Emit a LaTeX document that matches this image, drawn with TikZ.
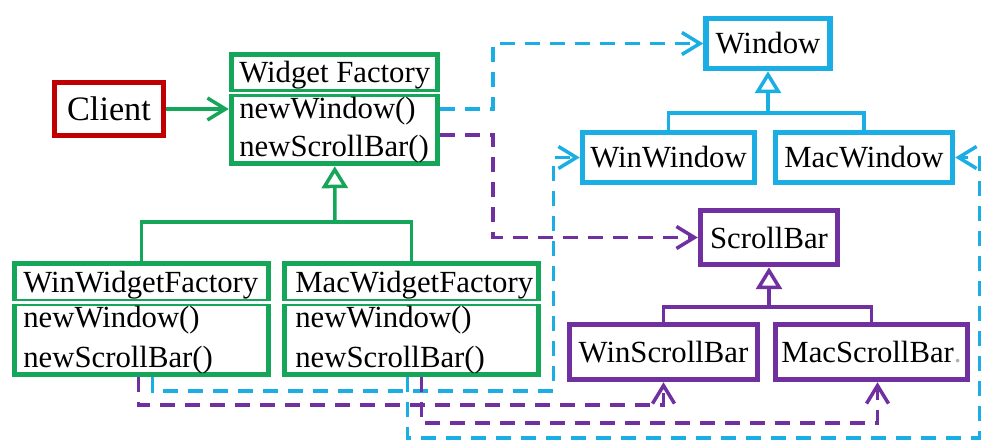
\documentclass[tikz,border=0pt]{standalone}
\usepackage{fontspec}
\setmainfont{Liberation Serif}
\usetikzlibrary{arrows.meta,calc}
\definecolor{clientred}{HTML}{C00000}
\definecolor{factgreen}{HTML}{16A65A}
\definecolor{winblue}{HTML}{1AAEE5}
\definecolor{barpurple}{HTML}{7030A0}
\newcommand{\sepline}[3]{\draw[#1,line width=0.05cm,double=white,double distance=0.05cm] (#2.west |- 0,#3) -- (#2.east |- 0,#3);}

\begin{document}
\begin{tikzpicture}[x=0.02cm,y=-0.02cm,font=\fontsize{17.5}{20}\selectfont,
  cls/.style={draw=#1,line width=0.11cm,fill=white,inner sep=0pt},
  memb/.style={anchor=base west,inner sep=0pt},
  gen/.style={draw=#1,line width=0.07cm},
  isa/.style={-{Triangle[open,length=0.44cm,width=0.52cm]}},
  dep/.style={draw=#1,line width=0.07cm,dash pattern=on 0.3cm off 0.2cm,-{Straight Barb[length=0.36cm,width=0.44cm]}}]
  \useasboundingbox (0,0) rectangle (1000,448);

  % client and factories
  \node[cls=clientred,minimum width=2.18cm,minimum height=1.06cm,font=\fontsize{19.5}{22}\selectfont] (client) at (109,109) {Client};
  \node[cls=factgreen,minimum width=4.12cm,minimum height=2.18cm] (wf) at (334.5,109) {};
  \node[memb] (wfname) at (239,83) {Widget Factory};
  \sepline{factgreen}{wf}{93}
  \node[memb] (wfwin) at (239,119) {newWindow()};
  \node[memb] (wfsb) at (239,157) {newScrollBar()};

  \node[cls=factgreen,minimum width=5.08cm,minimum height=2.22cm] (wwf) at (141.5,319) {};
  \node[memb] (wwfname) at (23,293) {WinWidgetFactory};
  \sepline{factgreen}{wwf}{302.5}
  \node[memb] (wwfwin) at (23,328) {newWindow()};
  \node[memb] (wwfsb) at (23,368) {newScrollBar()};

  \node[cls=factgreen,minimum width=5.08cm,minimum height=2.22cm] (mwf) at (411.5,319) {};
  \node[memb] (mwfname) at (295,293) {MacWidgetFactory};
  \sepline{factgreen}{mwf}{302.5}
  \node[memb] (mwfwin) at (295,328) {newWindow()};
  \node[memb] (mwfsb) at (295,368) {newScrollBar()};

  % products
  \node[cls=winblue,minimum width=2.48cm,minimum height=1.0cm] (window) at (768,43.5) {Window};
  \node[cls=winblue,minimum width=3.44cm,minimum height=1.0cm] (winwin) at (668.5,157.5) {WinWindow};
  \node[cls=winblue,minimum width=3.54cm,minimum height=1.0cm] (macwin) at (864,157.5) {MacWindow};
  \node[cls=barpurple,minimum width=2.74cm,minimum height=1.08cm] (scrollbar) at (769,237.5) {ScrollBar};
  \node[cls=barpurple,minimum width=3.76cm,minimum height=1.1cm] (winsb) at (663.5,352) {WinScrollBar};
  \node[cls=barpurple,minimum width=3.84cm,minimum height=1.1cm] (macsb) at (871.5,352) {MacScrollBar\textcolor{black!30}{.}};

  % inheritance
  \coordinate (wfj) at (335,222);
  \draw[gen=factgreen] (wwf) |- (wfj) -| (mwf);
  \draw[gen=factgreen,isa] (wfj) -- (wf);
  \coordinate (winj) at (768,113);
  \draw[gen=winblue] (winwin) |- (winj) -| (macwin);
  \draw[gen=winblue,isa] (winj) -- (window);
  \coordinate (sbj) at (769,307);
  \draw[gen=barpurple] (winsb) |- (sbj) -| (macsb);
  \draw[gen=barpurple,isa] (sbj) -- (scrollbar);

  % uses
  \draw[draw=factgreen,line width=0.07cm,-{Straight Barb[length=0.36cm,width=0.44cm]}] (client) -- (wf);
  \draw[dep=winblue] (wf.east) -- ++(53,0) |- (window);
  \draw[dep=barpurple] ($(wf.east)+(0,26)$) -- ++(53,0) |- (scrollbar);
  \draw[dep=winblue] ($(wwf.south)+(11,0)$) -- ++(0,14) -- ++(401,0) |- (winwin);
  \draw[dep=barpurple] ($(wwf.south)+(-3,0)$) -- ++(0,28) -| (winsb);
  \draw[dep=winblue] ($(mwf.south)+(-4,0)$) -- ++(0,61) -- ++(572,0) |- (macwin);
  \draw[dep=barpurple] ($(mwf.south)+(10,0)$) -- ++(0,46) -| ($(macsb.south)+(6,0)$);
\end{tikzpicture}
\end{document}
